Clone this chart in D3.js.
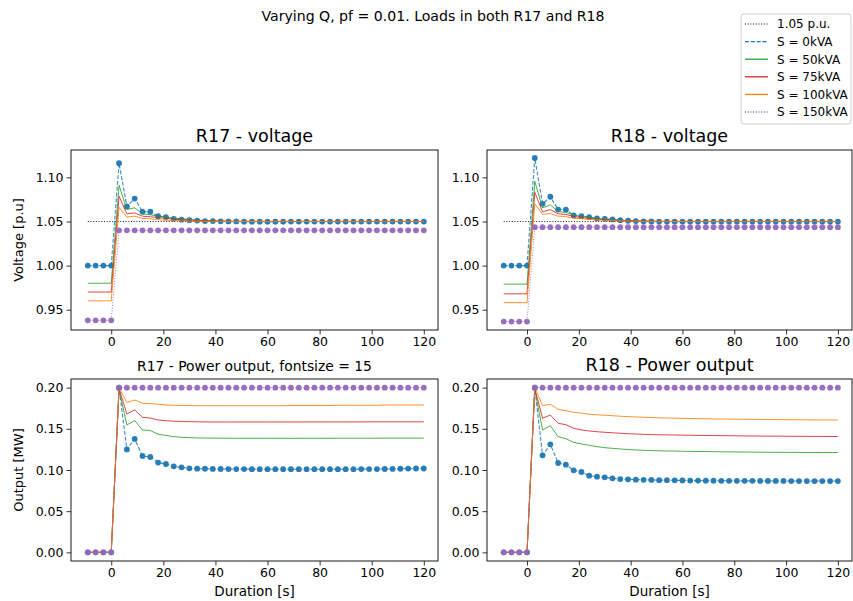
<!DOCTYPE html>
<html>
<head>
<meta charset="utf-8">
<script src="https://cdn.jsdelivr.net/npm/d3@7"></script>
<style>
  body { margin: 0; background: #fff; }
  text { font-family: "DejaVu Sans", sans-serif; fill: #000; }
</style>
</head>
<body>
<svg width="853" height="601"></svg>
<script>
// time axis [s]
const time = [-9,-6,-3,0,3,6,9,12,15,18,21,24,27,30,33,36,39,42,45,48,51,54,57,60,63,66,69,72,75,78,81,84,87,90,93,96,99,102,105,108,111,114,117,120];
const refLevel = [1.05, 1.05];
const refTime = [-9, 120];
const seriesNames = ["1.05 p.u.", "S = 0kVA", "S = 50kVA", "S = 75kVA", "S = 100kVA", "S = 150kVA"];
const voltTicks = [0.95, 1.00, 1.05, 1.10];
const powerTicks = [0, 0.05, 0.10, 0.15, 0.20];
const timeTicks = [0, 20, 40, 60, 80, 100, 120];

// R17 voltage [p.u]
const r17V_0   = [1.000,1.000,1.000,1.000, 1.116,1.067,1.076,1.061,1.061,1.056,1.055,1.053,1.052,1.0515,1.051,1.0505,1.0505,1.0502,1.0500,1.0500, 1.0498,1.0498,1.0498,1.0498,1.0498,1.0498,1.0499,1.0499,1.0499,1.0499,1.0499,1.0499,1.0499,1.0499,1.0499,1.0499,1.0499,1.0499,1.0499,1.0499,1.0499,1.0499,1.0499,1.0499];
const r17V_50  = [0.980,0.980,0.980,0.980, 1.091,1.0635,1.0655,1.0587,1.0575,1.0562,1.0548,1.0538,1.053,1.0522,1.0515,1.051,1.0506,1.0503,1.0502,1.0501, 1.050,1.050,1.050,1.050,1.050,1.050,1.050,1.050,1.050,1.050,1.050,1.050,1.050,1.050,1.050,1.050,1.050,1.050,1.050,1.050,1.050,1.050,1.050,1.050];
const r17V_75  = [0.970,0.970,0.970,0.970, 1.0786,1.0587,1.0597,1.056,1.0553,1.0545,1.0535,1.0527,1.052,1.0515,1.051,1.0506,1.0504,1.0502,1.0501,1.0500, 1.050,1.050,1.050,1.050,1.050,1.050,1.050,1.050,1.050,1.050,1.050,1.050,1.050,1.050,1.050,1.050,1.050,1.050,1.050,1.050,1.050,1.050,1.050,1.050];
const r17V_100 = [0.960,0.960,0.960,0.960, 1.066,1.055,1.056,1.0534,1.053,1.052,1.0515,1.051,1.0507,1.0505,1.0503,1.0502,1.0501,1.0500,1.0500,1.0500, 1.050,1.050,1.050,1.050,1.050,1.050,1.050,1.050,1.050,1.050,1.050,1.050,1.050,1.050,1.050,1.050,1.050,1.050,1.050,1.050,1.050,1.050,1.050,1.050];
const r17V_150 = [0.938,0.938,0.938,0.938, 1.040,1.040,1.040,1.040,1.040,1.040,1.040,1.040,1.040,1.040,1.040,1.040,1.040,1.040,1.040,1.040, 1.040,1.040,1.040,1.040,1.040,1.040,1.040,1.040,1.040,1.040,1.040,1.040,1.040,1.040,1.040,1.040,1.040,1.040,1.040,1.040,1.040,1.040,1.040,1.040];

// R18 voltage [p.u]
const r18V_0   = [1.000,1.000,1.000,1.000, 1.122,1.070,1.078,1.0635,1.0635,1.057,1.056,1.055,1.0534,1.053,1.0523,1.0515,1.0508,1.0505,1.0502,1.0500, 1.0499,1.0499,1.0499,1.0499,1.0499,1.0499,1.0499,1.0499,1.0499,1.0499,1.0499,1.0499,1.0499,1.0499,1.0499,1.0499,1.0499,1.0499,1.0499,1.0499,1.0499,1.0499,1.0499,1.0499];
const r18V_50  = [0.979,0.979,0.979,0.979, 1.0955,1.0654,1.0688,1.0613,1.0602,1.0571,1.0558,1.0545,1.0535,1.0527,1.052,1.0514,1.051,1.0506,1.0503,1.0502, 1.0501,1.050,1.050,1.050,1.050,1.050,1.050,1.050,1.050,1.050,1.050,1.050,1.050,1.050,1.050,1.050,1.050,1.050,1.050,1.050,1.050,1.050,1.050,1.050];
const r18V_75  = [0.968,0.968,0.968,0.968, 1.083,1.0608,1.0635,1.0586,1.058,1.0555,1.0545,1.0535,1.0527,1.052,1.0515,1.051,1.0507,1.0504,1.0502,1.0501, 1.050,1.050,1.050,1.050,1.050,1.050,1.050,1.050,1.050,1.050,1.050,1.050,1.050,1.050,1.050,1.050,1.050,1.050,1.050,1.050,1.050,1.050,1.050,1.050];
const r18V_100 = [0.958,0.958,0.958,0.958, 1.070,1.058,1.059,1.056,1.0555,1.0535,1.053,1.0524,1.0518,1.0513,1.051,1.0507,1.0504,1.0502,1.0501,1.0500, 1.050,1.050,1.050,1.050,1.050,1.050,1.050,1.050,1.050,1.050,1.050,1.050,1.050,1.050,1.050,1.050,1.050,1.050,1.050,1.050,1.050,1.050,1.050,1.050];
const r18V_150 = [0.9365,0.9365,0.9365,0.9365, 1.0435,1.0435,1.0435,1.0435,1.0435,1.0435,1.0435,1.0435,1.0435,1.0435,1.0435,1.0435,1.0435,1.0435,1.0435,1.0435, 1.0435,1.0435,1.0435,1.0435,1.0435,1.0435,1.0435,1.0435,1.0435,1.0435,1.0435,1.0435,1.0435,1.0435,1.0435,1.0435,1.0435,1.0435,1.0435,1.0435,1.0435,1.0435,1.0435,1.0435];

// R17 power output [MW]
const r17P_0   = [0,0,0,0, 0.200,0.125,0.1377,0.117,0.1158,0.109,0.1073,0.1045,0.1033,0.102,0.1016,0.1015,0.1013,0.1012,0.1011,0.1011, 0.1011,0.1010,0.1010,0.1010,0.1010,0.1010,0.1010,0.1010,0.1010,0.1010,0.1010,0.1010,0.1010,0.1010,0.1010,0.1011,0.1011,0.1011,0.1012,0.1013,0.1015,0.1017,0.1018,0.1018];
const r17P_50  = [0,0,0,0, 0.198,0.1547,0.160,0.1486,0.148,0.1434,0.142,0.1405,0.1397,0.1393,0.139,0.1388,0.1387,0.1386,0.1386,0.1385, 0.1385,0.1385,0.1385,0.1385,0.1385,0.1385,0.1385,0.1385,0.1385,0.1385,0.1385,0.1385,0.1386,0.1386,0.1386,0.1386,0.1386,0.1386,0.1387,0.1387,0.1387,0.1387,0.1387,0.1387];
const r17P_75  = [0,0,0,0, 0.199,0.168,0.173,0.164,0.163,0.1608,0.1598,0.1592,0.1589,0.1587,0.1585,0.1584,0.1583,0.1583,0.1583,0.1583, 0.1583,0.1583,0.1583,0.1583,0.1583,0.1583,0.1583,0.1583,0.1584,0.1584,0.1584,0.1584,0.1584,0.1584,0.1584,0.1584,0.1585,0.1585,0.1585,0.1585,0.1585,0.1585,0.1585,0.1585];
const r17P_100 = [0,0,0,0, 0.200,0.182,0.185,0.181,0.1806,0.1798,0.179,0.1786,0.1783,0.1782,0.1781,0.1781,0.1781,0.1781,0.1781,0.1781, 0.1781,0.1781,0.1781,0.1781,0.1781,0.1781,0.1783,0.1783,0.1783,0.1783,0.1783,0.1783,0.1786,0.1786,0.1786,0.1786,0.1786,0.1786,0.1789,0.1789,0.1789,0.1789,0.1789,0.1789];
const r17P_150 = [0,0,0,0, 0.2,0.2,0.2,0.2,0.2,0.2,0.2,0.2,0.2,0.2,0.2,0.2,0.2,0.2,0.2,0.2, 0.2,0.2,0.2,0.2,0.2,0.2,0.2,0.2,0.2,0.2,0.2,0.2,0.2,0.2,0.2,0.2,0.2,0.2,0.2,0.2,0.2,0.2,0.2,0.2];

// R18 power output [MW]
const r18P_0   = [0,0,0,0, 0.200,0.1178,0.1312,0.1085,0.1065,0.0996,0.0976,0.0931,0.0919,0.0911,0.0899,0.089,0.0887,0.0883,0.0881,0.0879, 0.0877,0.0876,0.0875,0.0873,0.0872,0.0871,0.0870,0.0870,0.0869,0.0869,0.0868,0.0868,0.0868,0.0867,0.0867,0.0867,0.0867,0.0866,0.0866,0.0866,0.0866,0.0866,0.0866,0.0866];
const r18P_50  = [0,0,0,0, 0.198,0.1486,0.1538,0.1405,0.138,0.1336,0.1316,0.130,0.1284,0.1271,0.1263,0.1255,0.1249,0.1243,0.1239,0.1236, 0.1233,0.1231,0.1230,0.1228,0.1226,0.1225,0.1224,0.1222,0.1221,0.1220,0.1219,0.1218,0.1217,0.1216,0.1216,0.1215,0.1215,0.1214,0.1214,0.1213,0.1213,0.1212,0.1212,0.1212];
const r18P_75  = [0,0,0,0, 0.199,0.1628,0.1668,0.1567,0.155,0.1506,0.1486,0.1474,0.1465,0.1458,0.1452,0.1446,0.1441,0.1437,0.1433,0.1430, 0.1428,0.1426,0.1425,0.1423,0.1422,0.1420,0.1419,0.1418,0.1417,0.1416,0.1415,0.1414,0.1413,0.1412,0.1411,0.1411,0.1410,0.1410,0.1409,0.1409,0.1408,0.1408,0.1407,0.1407];
const r18P_100 = [0,0,0,0, 0.200,0.1781,0.1798,0.1737,0.172,0.1701,0.169,0.1677,0.167,0.1665,0.1659,0.1653,0.1648,0.1644,0.164,0.1637, 0.1634,0.1631,0.1629,0.1627,0.1625,0.1623,0.1622,0.1620,0.1619,0.1618,0.1617,0.1616,0.1615,0.1614,0.1613,0.1612,0.1611,0.1610,0.1610,0.1609,0.1609,0.1608,0.1608,0.1607];
const r18P_150 = [0,0,0,0, 0.2,0.2,0.2,0.2,0.2,0.2,0.2,0.2,0.2,0.2,0.2,0.2,0.2,0.2,0.2,0.2, 0.2,0.2,0.2,0.2,0.2,0.2,0.2,0.2,0.2,0.2,0.2,0.2,0.2,0.2,0.2,0.2,0.2,0.2,0.2,0.2,0.2,0.2,0.2,0.2];

// line styles, same order as seriesNames
const styles = [
  {color: "#000000", width: 0.9, dash: "1,1.7", opacity: 1, marker: false},
  {color: "#1f77b4", width: 1.1, dash: "4,1.8", opacity: 0.85, marker: true},
  {color: "#2ca02c", width: 1.0, dash: null, opacity: 0.85, marker: false},
  {color: "#d62728", width: 1.0, dash: null, opacity: 0.85, marker: false},
  {color: "#ff7f0e", width: 1.0, dash: null, opacity: 0.85, marker: false},
  {color: "#9467bd", width: 1.0, dash: "1,1.7", opacity: 0.85, marker: true}
];

const svg = d3.select("svg");

svg.append("text")
  .attr("x", 433).attr("y", 21)
  .attr("text-anchor", "middle")
  .attr("font-size", "14.1px")
  .text("Varying Q, pf = 0.01. Loads in both R17 and R18");

function drawPanel(p) {
  const x = d3.scaleLinear().domain([-15.45, 125.45]).range([p.left, p.right]);
  const y = d3.scaleLinear().domain(p.yDomain).range([p.bottom, p.top]);
  const g = svg.append("g");

  const line = d3.line().x(d => x(d[0])).y(d => y(d[1]));

  // reference line only in voltage panels
  if (p.ref) {
    const st = styles[0];
    g.append("path")
      .datum(refTime.map((t, i) => [t, refLevel[i]]))
      .attr("d", line)
      .attr("fill", "none")
      .attr("stroke", st.color)
      .attr("stroke-width", st.width)
      .attr("stroke-dasharray", st.dash);
  }

  p.series.forEach((vals, k) => {
    const st = styles[k + 1];
    const pts = time.map((t, i) => [t, vals[i]]);
    g.append("path")
      .datum(pts)
      .attr("d", line)
      .attr("fill", "none")
      .attr("stroke", st.color)
      .attr("stroke-width", st.width)
      .attr("stroke-opacity", st.opacity)
      .attr("stroke-dasharray", st.dash);
    if (st.marker) {
      g.selectAll(null).data(pts).join("circle")
        .attr("cx", d => x(d[0]))
        .attr("cy", d => y(d[1]))
        .attr("r", 2.9)
        .attr("fill", st.color)
        .attr("fill-opacity", 0.95);
    }
  });

  // axes
  const xAxis = d3.axisBottom(x).tickValues(timeTicks).tickSize(4.5).tickSizeOuter(0).tickPadding(3);
  const yAxis = d3.axisLeft(y).tickValues(p.yTicks).tickFormat(d3.format(".2f")).tickSize(4.5).tickSizeOuter(0).tickPadding(3);

  const gx = g.append("g").attr("transform", `translate(0,${p.bottom})`).call(xAxis);
  const gy = g.append("g").attr("transform", `translate(${p.left},0)`).call(yAxis);
  [gx, gy].forEach(a => {
    a.select(".domain").remove();
    a.selectAll("text").attr("font-size", "12.5px").attr("font-family", "DejaVu Sans, sans-serif");
    a.selectAll("line").attr("stroke", "#000").attr("stroke-width", 0.8);
  });

  g.append("rect")
    .attr("x", p.left).attr("y", p.top)
    .attr("width", p.right - p.left).attr("height", p.bottom - p.top)
    .attr("fill", "none").attr("stroke", "#000").attr("stroke-width", 0.9);

  g.append("text")
    .attr("x", (p.left + p.right) / 2).attr("y", p.top - 8)
    .attr("text-anchor", "middle")
    .attr("font-size", p.titleSize)
    .text(p.title);

  if (p.ylabel) {
    g.append("text")
      .attr("transform", `translate(23,${(p.top + p.bottom) / 2}) rotate(-90)`)
      .attr("text-anchor", "middle")
      .attr("font-size", "13px")
      .text(p.ylabel);
  }
  if (p.xlabel) {
    g.append("text")
      .attr("x", (p.left + p.right) / 2).attr("y", p.bottom + 35)
      .attr("text-anchor", "middle")
      .attr("font-size", "13.5px")
      .text(p.xlabel);
  }
}

const vDomain = [0.927, 1.131];
const pDomain = [-0.0105, 0.2105];

drawPanel({left: 71, right: 438, top: 150, bottom: 330, yDomain: vDomain, yTicks: voltTicks, ref: true,
  series: [r17V_0, r17V_50, r17V_75, r17V_100, r17V_150], title: "R17 - voltage", titleSize: "17.5px", ylabel: "Voltage [p.u]"});
drawPanel({left: 487, right: 852, top: 150, bottom: 330, yDomain: vDomain, yTicks: voltTicks, ref: true,
  series: [r18V_0, r18V_50, r18V_75, r18V_100, r18V_150], title: "R18 - voltage", titleSize: "17.5px"});
drawPanel({left: 71, right: 438, top: 379, bottom: 561, yDomain: pDomain, yTicks: powerTicks, ref: false,
  series: [r17P_0, r17P_50, r17P_75, r17P_100, r17P_150], title: "R17 - Power output, fontsize = 15", titleSize: "13.9px",
  ylabel: "Output [MW]", xlabel: "Duration [s]"});
drawPanel({left: 487, right: 852, top: 379, bottom: 561, yDomain: pDomain, yTicks: powerTicks, ref: false,
  series: [r18P_0, r18P_50, r18P_75, r18P_100, r18P_150], title: "R18 - Power output", titleSize: "17.5px",
  xlabel: "Duration [s]"});

// legend
const leg = svg.append("g");
leg.append("rect")
  .attr("x", 741).attr("y", 14).attr("width", 110).attr("height", 110)
  .attr("rx", 3).attr("fill", "#fff").attr("stroke", "#d0d0d0").attr("stroke-width", 1);
seriesNames.forEach((name, i) => {
  const st = styles[i];
  const yy = 24 + i * 17.6;
  leg.append("line")
    .attr("x1", 745).attr("x2", 768).attr("y1", yy).attr("y2", yy)
    .attr("stroke", st.color)
    .attr("stroke-width", i === 0 ? 1 : 1.3)
    .attr("stroke-dasharray", st.dash);
  leg.append("text")
    .attr("x", 777).attr("y", yy + 4.3)
    .attr("font-size", "12px")
    .text(name);
});
</script>
</body>
</html>
